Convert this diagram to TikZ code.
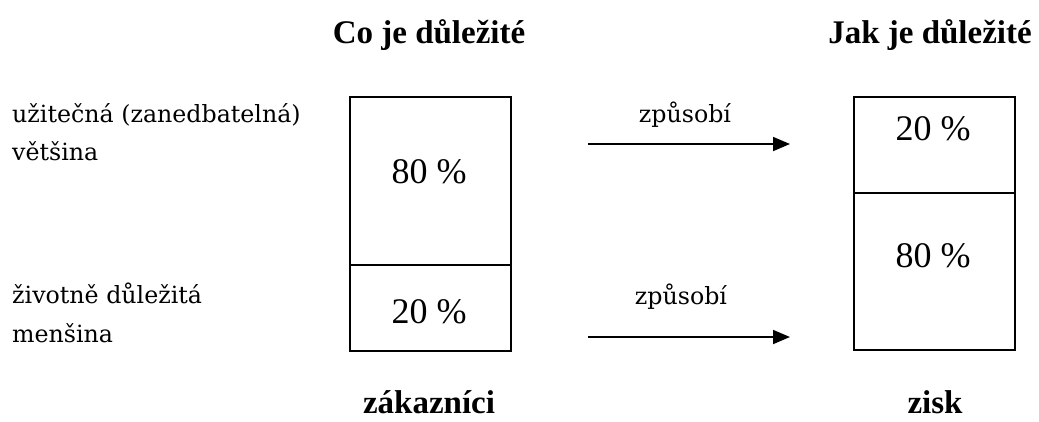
\documentclass[tikz,border=0pt]{standalone}
\usepackage{fontspec}
\setmainfont{Liberation Serif}
\newfontfamily\labfont{DejaVu Serif}
\usetikzlibrary{arrows.meta}
\begin{document}
\begin{tikzpicture}[x=1pt,y=-1pt,
  cell/.style={draw=black, line width=1.7pt, inner sep=0pt, anchor=north west, minimum width=161pt},
  head/.style={font=\fontsize{33}{38}\selectfont\bfseries, inner sep=0pt, anchor=base},
  pct/.style={font=\fontsize{36}{40}\selectfont, inner sep=0pt, anchor=base},
  lab/.style={font=\labfont\fontsize{23.7}{28}\selectfont, inner sep=0pt, anchor=base west},
  cause/.style={font=\labfont\fontsize{23.7}{28}\selectfont, inner sep=0pt, anchor=base},
  arr/.style={line width=1.8pt, -{Triangle[length=17pt,width=14pt]}}]
\useasboundingbox (0,0) rectangle (1039,421);
% headings
\node[head] (t1) at (429,43) {Co je důležité};
\node[head] (t2) at (930,43) {Jak je důležité};
% left column
\node[cell, minimum height=168pt] (L80box) at (349,96) {};
\node[cell, minimum height=86pt] (L20box) at (349,264) {};
\node[pct] (l80) at (429,183) {80 \%};
\node[pct] (l20) at (429,323) {20 \%};
% right column
\node[cell, minimum height=96pt] (R20box) at (853,96) {};
\node[cell, minimum height=157pt] (R80box) at (853,192) {};
\node[pct] (r20) at (933,140) {20 \%};
\node[pct] (r80) at (933,267) {80 \%};
% side labels
\node[lab] (la1) at (12,122) {užitečná (zanedbatelná)};
\node[lab] (la2) at (12,160) {většina};
\node[lab] (lb1) at (12,303) {životně důležitá};
\node[lab] (lb2) at (12,342) {menšina};
% arrows
\coordinate (a1s) at (588,144);
\coordinate (a1e) at (790,144);
\coordinate (a2s) at (588,337);
\coordinate (a2e) at (790,337);
\draw[arr] (a1s) -- (a1e);
\draw[arr] (a2s) -- (a2e);
\node[cause] (c1) at (685,122) {způsobí};
\node[cause] (c2) at (681,304) {způsobí};
% bottom labels
\node[head] (b1) at (429,413) {zákazníci};
\node[head] (b2) at (935,413) {zisk};
\end{tikzpicture}
\end{document}
